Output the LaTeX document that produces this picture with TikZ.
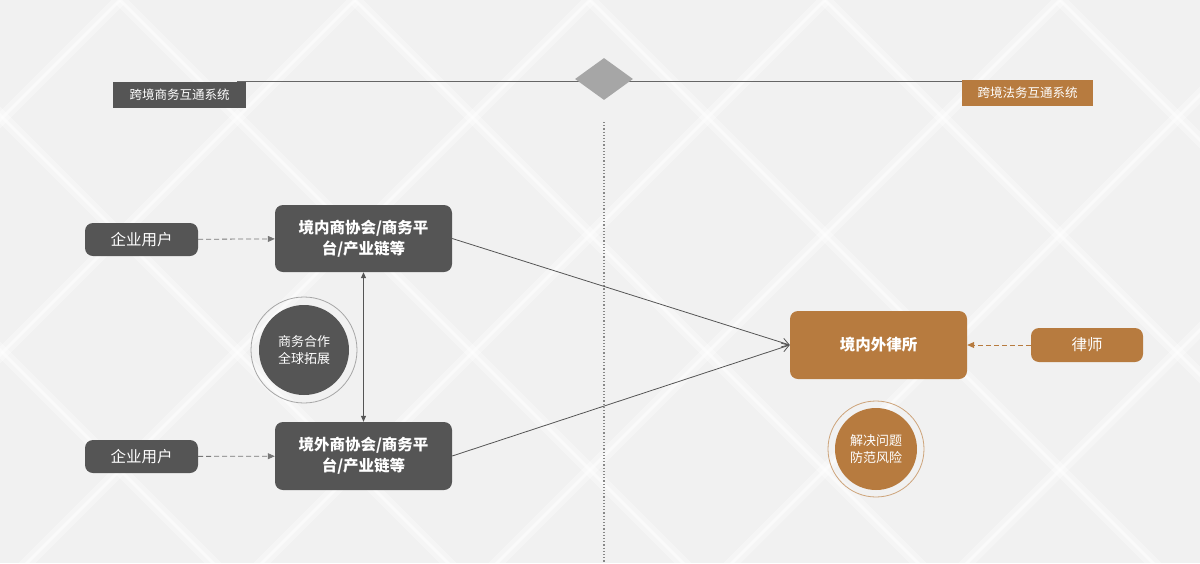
\documentclass[tikz,border=0pt]{standalone}
\usepackage{fontspec}
\setmainfont{Noto Sans CJK SC}
\usetikzlibrary{arrows.meta,shapes.geometric}
\definecolor{dg}{HTML}{555555}
\definecolor{og}{HTML}{B77B3F}
\definecolor{bg}{HTML}{F1F1F1}
\begin{document}
\begin{tikzpicture}[x=1pt,y=-1pt,
  gbox/.style={rectangle, rounded corners=8pt, fill=dg, text=white, align=center, inner sep=0pt},
  obox/.style={rectangle, rounded corners=8pt, fill=og, text=white, align=center, inner sep=0pt},
  tag/.style={rectangle, text=white, inner sep=0pt, font=\fontsize{12.5}{15}\selectfont},
  dash arrow/.style={draw=dg!80, dashed, dash pattern=on 5pt off 3pt, line width=0.8pt, -{Triangle[length=7pt,width=6pt]}},
  link/.style={draw=dg, line width=0.8pt, -{Straight Barb[length=7pt,width=9pt]}},
  ring/.style={circle, draw=#1, line width=0.8pt, inner sep=0pt}
]
\useasboundingbox (0,0) rectangle (1200,563);
\fill[bg] (0,0) rectangle (1200,563);
\begin{scope}
\clip (0,0) rectangle (1200,563);
\foreach \i in {-3,...,6}{
  \draw[white, line width=12pt, opacity=0.35] (\i*235+120,0) -- ++(600,600);
  \draw[white, line width=12pt, opacity=0.35] (\i*235+120,0) -- ++(-600,600);
  \draw[white, line width=3pt, opacity=0.5] (\i*235+120,0) -- ++(600,600);
  \draw[white, line width=3pt, opacity=0.5] (\i*235+120,0) -- ++(-600,600);
}
\end{scope}
% header
\coordinate (hl) at (237,81);
\coordinate (hr) at (1093,81);
\draw[dg!90, line width=1pt] (hl) -- (hr);
\node[tag, fill=dg, minimum width=133, minimum height=26, anchor=north west] (tl) at (113,82) {跨境商务互通系统};
\node[tag, fill=og, minimum width=131, minimum height=26, anchor=north west] (tr) at (962,80) {跨境法务互通系统};
\node[diamond, fill=gray!70, minimum width=58, minimum height=42, inner sep=0pt] (dm) at (604,79) {};
\coordinate (vt) at (604,122);
\coordinate (vb) at (604,563);
\draw[dg!70, line width=1.2pt, dotted] (vt) -- (vb);
% left side
\node[gbox, minimum width=113, minimum height=33, font=\fontsize{15.5}{18}\selectfont] (u1) at (141.5,239.5) {企业用户};
\node[gbox, minimum width=113, minimum height=33, font=\fontsize{15.5}{18}\selectfont] (u2) at (141.5,456.5) {企业用户};
\node[gbox, minimum width=177, minimum height=67, font=\bfseries\fontsize{15.5}{21}\selectfont] (b1) at (363.5,238.5) {境内商协会/商务平\\台/产业链等};
\node[gbox, minimum width=177, minimum height=68, font=\bfseries\fontsize{15.5}{21}\selectfont] (b2) at (363.5,456) {境外商协会/商务平\\台/产业链等};
\draw[dash arrow] (u1) -- (b1);
\draw[dash arrow] (u2) -- (b2);
\draw[dg, line width=0.8pt, {Triangle[length=6pt,width=5pt]}-{Triangle[length=6pt,width=5pt]}] (b1.south) -- (b2.north);
\node[ring=gray!70, minimum size=106] (c1o) at (304,350) {};
\node[circle, fill=dg, minimum size=90, inner sep=0pt, text=white, align=center, font=\fontsize{13}{17}\selectfont] (c1) at (304,350) {商务合作\\全球拓展};
% right side
\node[obox, minimum width=177, minimum height=68, font=\bfseries\fontsize{15.5}{20}\selectfont] (lf) at (878.5,345) {境内外律所};
\node[obox, minimum width=112, minimum height=34, font=\fontsize{15.5}{18}\selectfont] (ls) at (1087,345) {律师};
\draw[dash arrow, draw=og] (ls) -- (lf);
\draw[link] (b1.east) -- (lf.west);
\draw[link] (b2.east) -- (lf.west);
\node[ring=og!70, minimum size=96] (c2o) at (876,449) {};
\node[circle, fill=og, minimum size=82, inner sep=0pt, text=white, align=center, font=\fontsize{13}{17}\selectfont] (c2) at (876,449) {解决问题\\防范风险};
\end{tikzpicture}
\end{document}
